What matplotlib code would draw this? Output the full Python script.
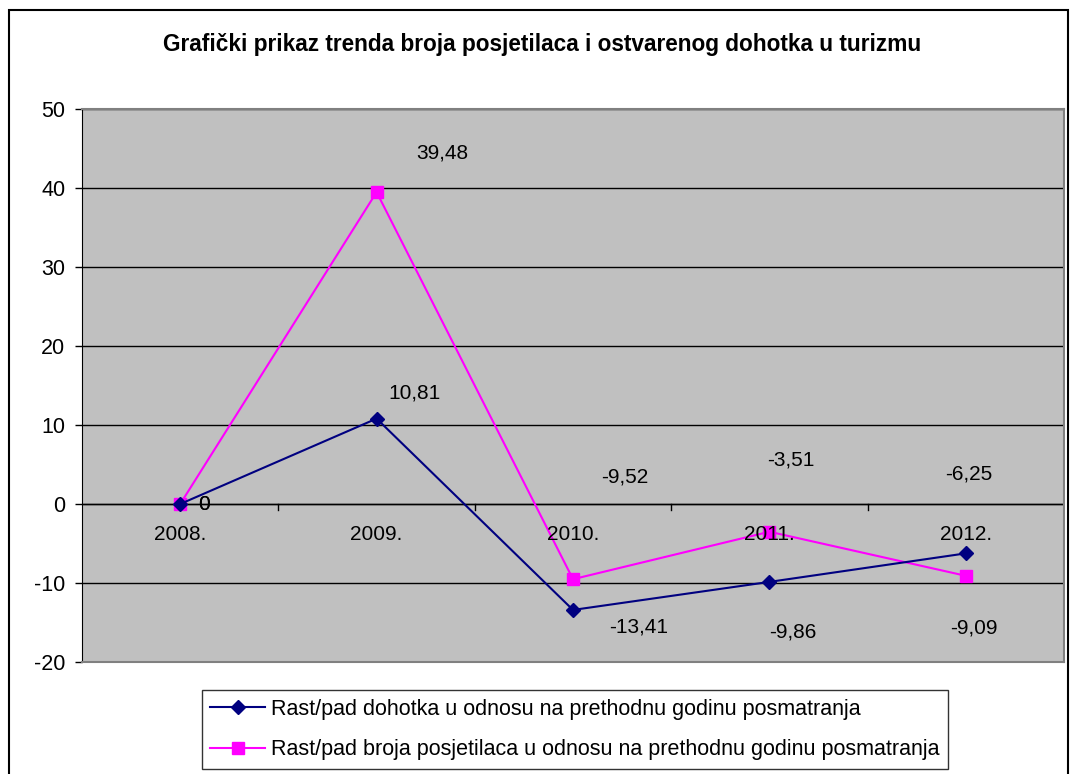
import matplotlib

matplotlib.use("Agg")
import matplotlib.pyplot as plt
from matplotlib.patches import Rectangle

plt.rcParams["font.family"] = ["Liberation Sans", "DejaVu Sans"]
plt.rcParams["axes.unicode_minus"] = False

TITLE = "Grafički prikaz trenda broja posjetilaca i ostvarenog dohotka u turizmu"
YEARS = ["2008.", "2009.", "2010.", "2011.", "2012."]
DOHODAK = [0, 10.81, -13.41, -9.86, -6.25]
POSJETIOCI = [0, 39.48, -9.52, -3.51, -9.09]
LBL_DOHODAK = "Rast/pad dohotka u odnosu na prethodnu godinu posmatranja"
LBL_POSJETIOCI = "Rast/pad broja posjetilaca u odnosu na prethodnu godinu posmatranja"

# label offsets in pixels (dx, dy) — labels were hand-placed in the original
OFF_DOHODAK = [(24, 0), (38, 26), (66, -17), (23, -50), (3, 79)]
OFF_POSJETIOCI = [(24, 0), (66, 39), (52, 102), (21, 72), (8, -52)]

W, H = 1073, 774
fig = plt.figure(figsize=(W / 100, H / 100), dpi=100)
ax = fig.add_axes([82 / W, 1 - 662 / H, (1064 - 82) / W, (662 - 109) / H])
ax.set_facecolor("#C0C0C0")

xs = list(range(len(YEARS)))
ax.plot(xs, DOHODAK, color="#000080", lw=1.5, marker="D", ms=7,
        label=LBL_DOHODAK, zorder=4)
ax.plot(xs, POSJETIOCI, color="#FF00FF", lw=1.5, marker="s", ms=8,
        label=LBL_POSJETIOCI, zorder=3)

for vals, offs in ((DOHODAK, OFF_DOHODAK), (POSJETIOCI, OFF_POSJETIOCI)):
    for x, v, (dx, dy) in zip(xs, vals, offs):
        txt = f"{v:g}".replace(".", ",")
        ax.annotate(txt, (x, v), xytext=(dx, dy), textcoords="offset pixels",
                    ha="center", va="center", fontsize=15, zorder=5)

ax.set_xlim(-0.5, len(YEARS) - 0.5)
ax.set_ylim(-20, 50)
ax.set_yticks(range(-20, 51, 10))
ax.yaxis.grid(True, color="black", lw=1)
ax.set_axisbelow(True)
ax.tick_params(axis="y", labelsize=15.5, length=5, width=1, pad=7, direction="out")

# plot-area border grey, value axis black, category axis on the zero line
for side in ("top", "right", "bottom"):
    ax.spines[side].set_color("#808080")
    ax.spines[side].set_linewidth(1.5)
ax.spines["left"].set_color("black")
ax.axhline(0, color="black", lw=1, zorder=1)
ax.set_xticks([])
for i in range(len(YEARS) - 1):
    ax.plot([i + 0.5, i + 0.5], [0, -0.7], color="black", lw=1, zorder=2)
for x in xs:
    ax.annotate(YEARS[x], (x, 0), xytext=(0, -31), textcoords="offset pixels",
                ha="center", va="center", fontsize=15)

fig.text(542 / W, 1 - 44 / H, TITLE, ha="center", va="center",
         fontsize=16.3, fontweight="bold")

leg = fig.legend(loc="center", bbox_to_anchor=(575 / W, 1 - 729.5 / H),
                 fontsize=15.5, frameon=True, fancybox=False, edgecolor="black",
                 borderpad=0.4, handlelength=2.56, handletextpad=0.28,
                 labelspacing=0.9, borderaxespad=0)
leg.get_frame().set_linewidth(1)

fig.patches.append(Rectangle((9 / W, -0.01), (1068 - 9) / W, 1.01 - 10 / H,
                             transform=fig.transFigure, fill=False,
                             edgecolor="black", lw=1.5))

fig.savefig("out.png", dpi=100)
